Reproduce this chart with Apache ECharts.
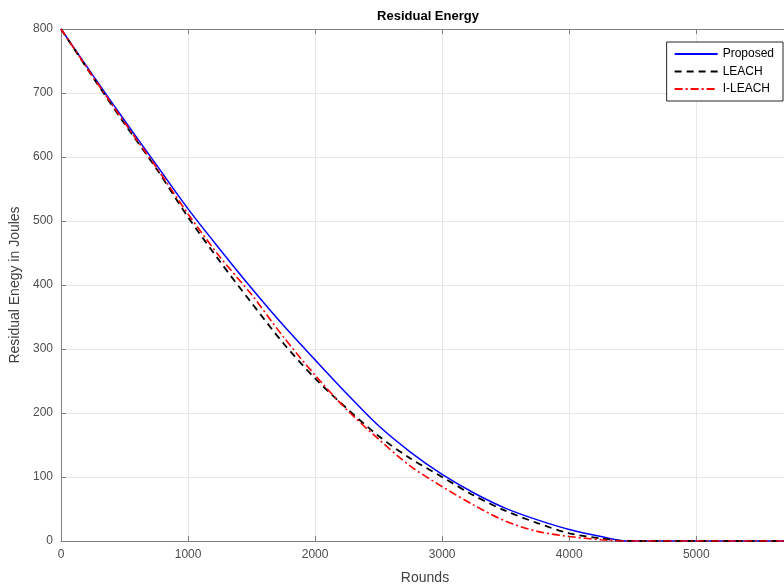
<!DOCTYPE html>
<html>
<head>
<meta charset="utf-8">
<script src="https://cdn.jsdelivr.net/npm/echarts@6/dist/echarts.min.js"></script>
<style>html,body{margin:0;padding:0;background:#fff;}#c{width:784px;height:587px;}</style>
</head>
<body>
<div id="c"></div>
<script>
const rounds   = [0, 250, 500, 750, 1000, 1250, 1500, 1750, 2000, 2250, 2500, 2750, 3000, 3250, 3500, 3750, 4000, 4250, 4450, 5000, 5500, 5730];
const proposed = [800, 728, 657, 588, 519, 456, 395, 337, 283, 230, 180, 139, 104, 75, 51, 33, 18, 7, 0, 0, 0, 0];
const leach    = [800, 725, 652, 582, 506, 437, 372, 309, 254, 207, 164, 129, 100, 71, 47, 28, 12, 4, 0, 0, 0, 0];
const ileach   = [800, 726, 654, 584, 511, 444, 385, 319, 259, 205, 159, 117, 85, 56, 31, 15, 7, 2, 0, 0, 0, 0];
const xTicks = [0, 1000, 2000, 3000, 4000, 5000];
const yTicks = [0, 100, 200, 300, 400, 500, 600, 700, 800];

const pair = (xs, ys) => xs.map((x, i) => [x, ys[i]]);
const chart = echarts.init(document.getElementById('c'));
const font = 'Liberation Sans, Arial, Helvetica, sans-serif';
chart.setOption({
  animation: false,
  backgroundColor: '#ffffff',
  title: {
    text: 'Residual Energy', left: 423, top: 5, textAlign: 'center',
    textStyle: { fontFamily: font, fontSize: 13, fontWeight: 'bold', color: '#000' }
  },
  grid: { left: 61, top: 29, right: -5, bottom: 46, outerBoundsMode: 'none', containLabel: false },
  legend: {
    orient: 'vertical', right: 1, top: 42,
    itemWidth: 43, itemHeight: 10, itemGap: 5.5,
    padding: [6, 9, 6, 7],
    backgroundColor: '#fff', borderColor: '#262626', borderWidth: 1,
    itemStyle: { opacity: 0 },
    textStyle: { fontFamily: font, fontSize: 12, color: '#000' },
    data: ['Proposed', 'LEACH', 'I-LEACH']
  },
  xAxis: [{
    type: 'value', min: 0, max: 5730, interval: 1000,
    name: 'Rounds', nameLocation: 'middle', nameGap: 30,
    nameTextStyle: { fontFamily: font, fontSize: 14, color: '#404040' },
    axisLine: { lineStyle: { color: '#808080', width: 1 } },
    axisTick: { inside: true, length: 5, lineStyle: { color: '#808080' } },
    axisLabel: { fontFamily: font, fontSize: 12, color: '#4d4d4d', margin: 8,
      formatter: v => xTicks.includes(v) ? String(v) : '' },
    splitLine: { show: true, lineStyle: { color: '#e6e6e6', width: 1 } }
  }, {
    type: 'value', position: 'top', min: 0, max: 5730, interval: 1000,
    axisLine: { show: true, lineStyle: { color: '#808080', width: 1 } },
    axisTick: { show: true, inside: true, length: 5, lineStyle: { color: '#808080' } },
    axisLabel: { show: false }, splitLine: { show: false }
  }],
  yAxis: {
    type: 'value', min: 0, max: 800, interval: 100,
    name: 'Residual Enegy in Joules', nameLocation: 'middle', nameGap: 37,
    nameTextStyle: { fontFamily: font, fontSize: 14, color: '#404040' },
    axisLine: { show: true, lineStyle: { color: '#808080', width: 1 } },
    axisTick: { show: true, inside: true, length: 5, lineStyle: { color: '#808080' } },
    axisLabel: { fontFamily: font, fontSize: 12, color: '#4d4d4d', margin: 8,
      formatter: v => yTicks.includes(v) ? String(v) : '' },
    splitLine: { show: true, lineStyle: { color: '#e6e6e6', width: 1 } }
  },
  series: [
    { name: 'Proposed', type: 'line', data: pair(rounds, proposed), symbol: 'none', smooth: 0.3,
      color: '#0000ff', lineStyle: { color: '#0000ff', width: 1.5, type: 'solid' } },
    { name: 'LEACH', type: 'line', data: pair(rounds, leach), symbol: 'none', smooth: 0.3,
      color: '#000000', lineStyle: { color: '#000000', width: 1.8, type: [7, 5] } },
    { name: 'I-LEACH', type: 'line', data: pair(rounds, ileach), symbol: 'none', smooth: 0.3,
      color: '#ff0000', lineStyle: { color: '#ff0000', width: 1.6, type: [8, 3, 2, 3] } }
  ]
});
</script>
</body>
</html>
